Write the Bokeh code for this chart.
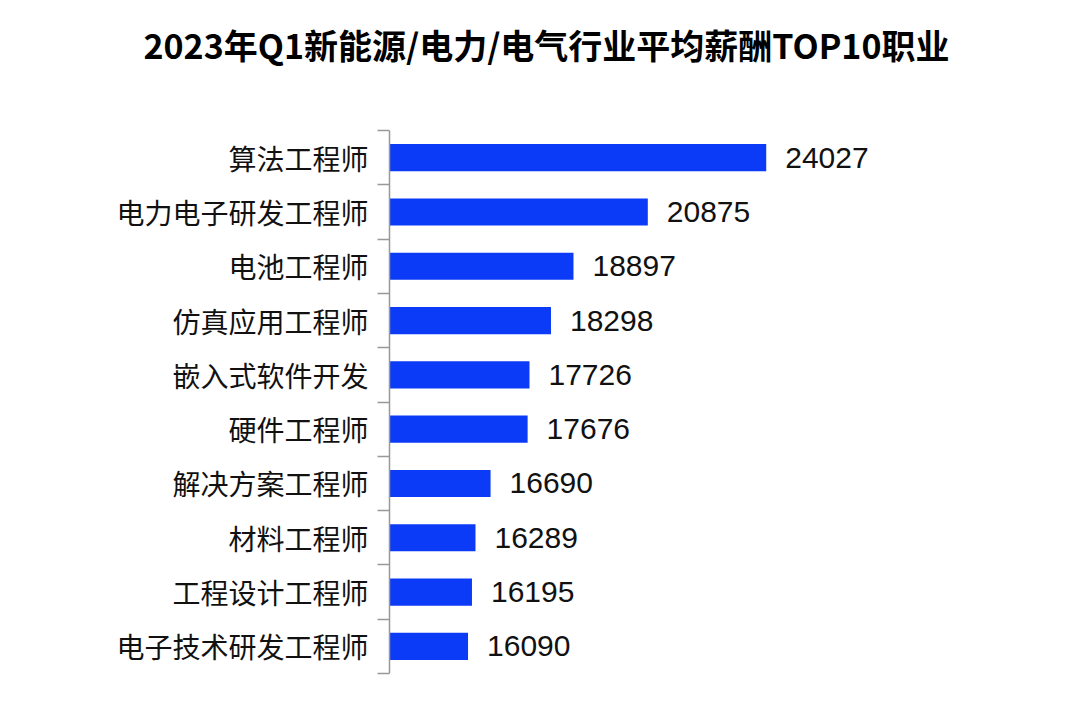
from bokeh.plotting import figure
from bokeh.models import FixedTicker, Title, Range1d, ColumnDataSource
from bokeh.core.properties import value
from bokeh.embed import file_html
from bokeh.resources import INLINE

title_text = "2023年Q1新能源/电力/电气行业平均薪酬TOP10职业"
categories = ["算法工程师", "电力电子研发工程师", "电池工程师", "仿真应用工程师", "嵌入式软件开发",
              "硬件工程师", "解决方案工程师", "材料工程师", "工程设计工程师", "电子技术研发工程师"]
salaries = [24027, 20875, 18897, 18298, 17726, 17676, 16690, 16289, 16195, 16090]

n = len(categories)
ypos = [n - i - 0.5 for i in range(n)]
labels = [str(v) for v in salaries]

src = ColumnDataSource(dict(y=ypos, v=salaries, lab=labels))

p = figure(width=1080, height=705, output_backend="svg", toolbar_location=None,
           x_range=Range1d(14000, 28000), y_range=Range1d(0, n),
           min_border_left=389, min_border_right=165, min_border_top=130, min_border_bottom=32)
p.outline_line_color = None
p.grid.visible = False
p.xaxis.visible = False
p.background_fill_color = "white"
p.border_fill_color = "white"

p.hbar(y="y", right="v", left=14000, height=0.5, source=src, color="#0B3BF6", line_color=None)
p.text(x="v", y="y", text="lab", source=src, x_offset=19, text_baseline="middle",
       text_align="left", text_font=value("Liberation Sans"), text_font_size="30px", text_color="#111111")

ax = p.yaxis[0]
ax.ticker = FixedTicker(ticks=ypos, minor_ticks=list(range(n + 1)))
ax.major_label_overrides = {y: c for y, c in zip(ypos, categories)}
ax.major_tick_out = 0
ax.major_tick_in = 0
ax.minor_tick_out = 12
ax.minor_tick_in = 0
ax.minor_tick_line_color = "#999999"
ax.minor_tick_line_width = 1.5
ax.axis_line_color = "#999999"
ax.axis_line_width = 1.5
ax.major_label_standoff = 9
ax.major_label_text_font = "Noto Sans CJK SC"
ax.major_label_text_font_size = "28px"
ax.major_label_text_color = "#111111"

# spacer between the title and the plot frame
p.add_layout(Title(text=" ", text_font_size="10px", standoff=47), "above")
p.add_layout(Title(text=title_text, align="left", offset=-246, text_font="Noto Sans CJK SC",
                   text_font_size="34px", text_font_style="bold", text_color="#000000",
                   vertical_align="top", standoff=0), "above")

open("out.html", "w").write(file_html(p, INLINE))
